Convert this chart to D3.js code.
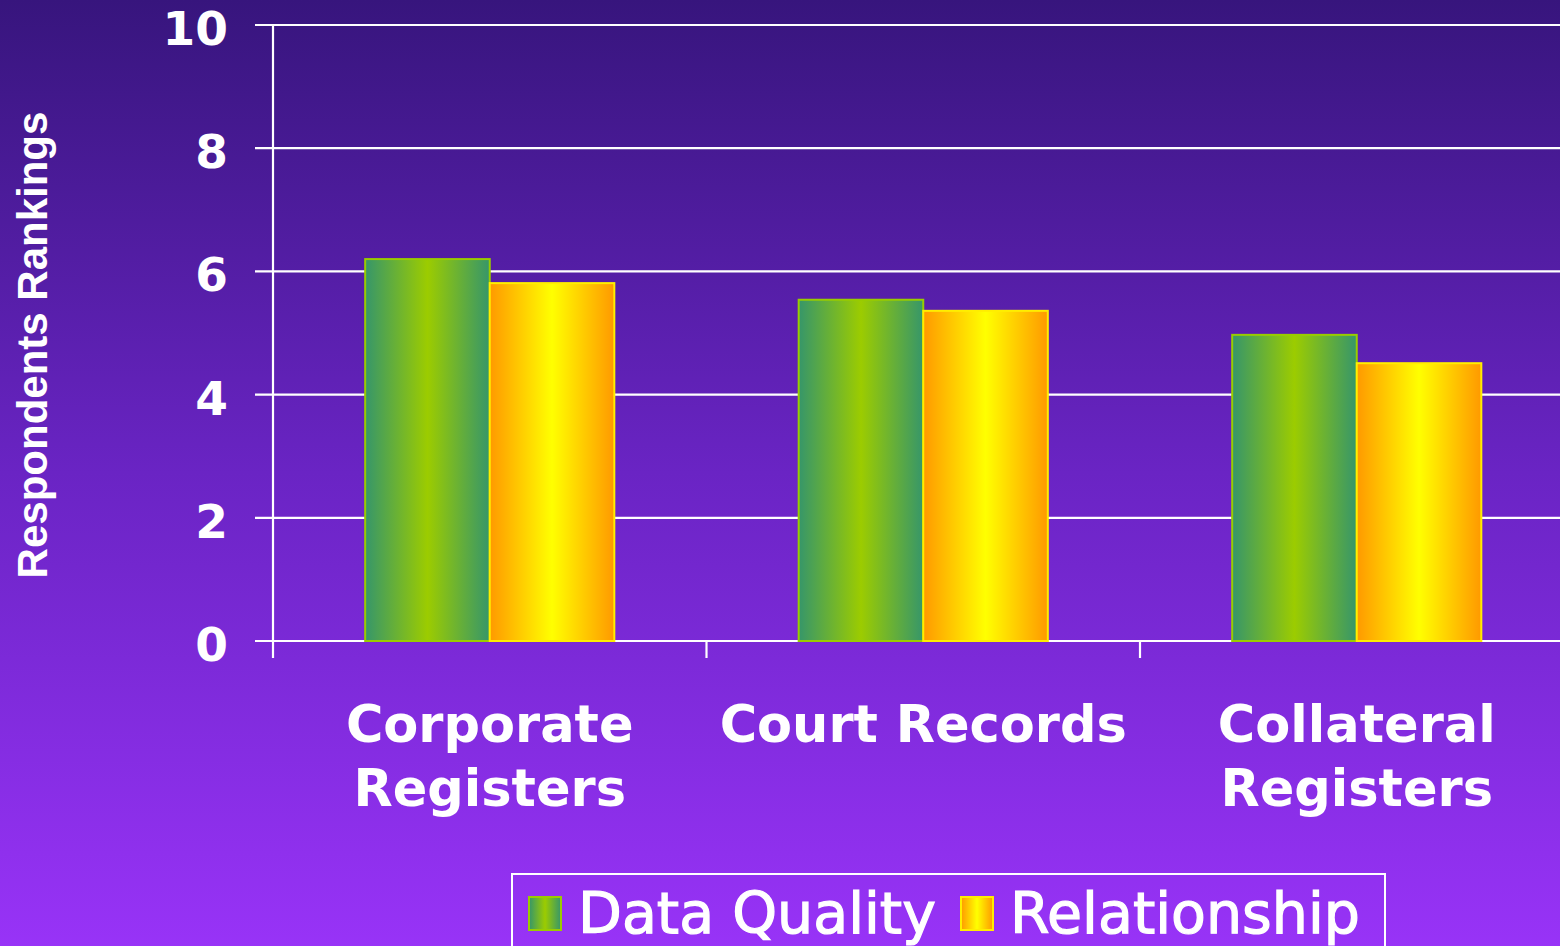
<!DOCTYPE html>
<meta charset="utf-8">
<style>
body { margin: 0; overflow: hidden; }
text { fill: #fff; }
</style>
<body>
<script src="https://cdn.jsdelivr.net/npm/d3@7"></script>
<script>

// chart data
var categories = [["Corporate", "Registers"], ["Court Records"], ["Collateral", "Registers"]];
var seriesNames = ["Data Quality", "Relationship"];
var dataQuality = [6.2, 5.54, 4.97];
var relationship = [5.81, 5.36, 4.51];
var yTicks = [0, 2, 4, 6, 8, 10];

var W = 1560, H = 946;
var plotLeft = 273, plotTop = 25, plotBottom = 641;
var step = 433.5;

var svg = d3.select("body").append("svg")
    .attr("width", W)
    .attr("height", H);

var defs = svg.append("defs");

// background gradient
var bg = defs.append("linearGradient").attr("id", "bg")
    .attr("x1", 0).attr("y1", 0).attr("x2", 0).attr("y2", 1);
bg.append("stop").attr("offset", "0%").attr("stop-color", "#37157d");
bg.append("stop").attr("offset", "50%").attr("stop-color", "#6a24c4");
bg.append("stop").attr("offset", "100%").attr("stop-color", "#9833f7");

// bar gradients (horizontal)
function barGrad(id, edge, mid) {
  var g = defs.append("linearGradient").attr("id", id)
      .attr("x1", 0).attr("y1", 0).attr("x2", 1).attr("y2", 0);
  g.append("stop").attr("offset", "0%").attr("stop-color", edge);
  g.append("stop").attr("offset", "50%").attr("stop-color", mid);
  g.append("stop").attr("offset", "100%").attr("stop-color", edge);
}
barGrad("gGreen", "#36966a", "#9ccc00");
barGrad("gYellow", "#ff9900", "#ffff00");

var fills = ["url(#gGreen)", "url(#gYellow)"];
var strokes = ["#99cc00", "#ffee00"];

svg.append("rect").attr("width", W).attr("height", H).attr("fill", "url(#bg)");

// scales
var x = d3.scaleBand()
    .domain(d3.range(categories.length))
    .range([plotLeft, plotLeft + step * categories.length]);

var x1 = d3.scaleBand()
    .domain(d3.range(seriesNames.length))
    .range([0, x.bandwidth()])
    .paddingOuter(0.74);

var y = d3.scaleLinear()
    .domain([0, 10])
    .range([plotBottom, plotTop]);

// gridlines
svg.append("g")
  .selectAll("line")
  .data(yTicks)
  .enter().append("line")
    .attr("x1", 255).attr("x2", W)
    .attr("y1", function(d) { return y(d); })
    .attr("y2", function(d) { return y(d); })
    .attr("stroke", "#fff")
    .attr("stroke-width", 2.2);

// y axis line
svg.append("line")
    .attr("x1", plotLeft).attr("x2", plotLeft)
    .attr("y1", plotTop).attr("y2", plotBottom + 17)
    .attr("stroke", "#fff").attr("stroke-width", 2.2);

// x ticks between categories
svg.append("g")
  .selectAll("line")
  .data(d3.range(1, categories.length))
  .enter().append("line")
    .attr("x1", function(d) { return x(d); })
    .attr("x2", function(d) { return x(d); })
    .attr("y1", plotBottom).attr("y2", plotBottom + 17)
    .attr("stroke", "#fff").attr("stroke-width", 2.2);

// y tick labels
svg.append("g")
  .selectAll("text")
  .data(yTicks)
  .enter().append("text")
    .attr("x", 228)
    .attr("y", function(d) { return y(d) + 20; })
    .attr("text-anchor", "end")
    .style("font", "bold 47px 'DejaVu Sans'")
    .text(function(d) { return d; });

// y title
svg.append("text")
    .attr("transform", "translate(47,345) rotate(-90)")
    .attr("text-anchor", "middle")
    .style("font", "bold 42px 'Liberation Sans'")
    .text("Respondents Rankings");

// bars
var series = [dataQuality, relationship];
var groups = svg.append("g")
  .selectAll("g")
  .data(categories)
  .enter().append("g")
    .attr("transform", function(d, i) { return "translate(" + x(i) + ",0)"; });

groups.selectAll("rect")
    .data(function(d, i) { return series.map(function(s, k) { return {k: k, v: s[i]}; }); })
  .enter().append("rect")
    .attr("x", function(d) { return x1(d.k); })
    .attr("y", function(d) { return y(d.v); })
    .attr("width", x1.bandwidth())
    .attr("height", function(d) { return y(0) - y(d.v); })
    .attr("fill", function(d) { return fills[d.k]; })
    .attr("stroke", function(d) { return strokes[d.k]; })
    .attr("stroke-width", 2);

// category labels
groups.append("text")
    .attr("x", x.bandwidth() / 2)
    .attr("y", 742)
    .attr("text-anchor", "middle")
    .style("font", "bold 51px 'DejaVu Sans'")
  .selectAll("tspan")
    .data(function(d) { return d; })
  .enter().append("tspan")
    .attr("x", x.bandwidth() / 2)
    .attr("dy", function(d, i) { return i ? 64 : 0; })
    .text(function(d) { return d; });

// legend
var legend = svg.append("g");
legend.append("rect")
    .attr("x", 512).attr("y", 874)
    .attr("width", 873).attr("height", 100)
    .attr("fill", "none")
    .attr("stroke", "#fff").attr("stroke-width", 2);

var legX = [529, 961];
var items = legend.selectAll("g.item")
    .data(seriesNames)
  .enter().append("g")
    .attr("class", "item")
    .attr("transform", function(d, i) { return "translate(" + legX[i] + ",0)"; });

items.append("rect")
    .attr("x", 0).attr("y", 897)
    .attr("width", 32).attr("height", 33)
    .attr("fill", function(d, i) { return fills[i]; })
    .attr("stroke", function(d, i) { return strokes[i]; })
    .attr("stroke-width", 2);

items.append("text")
    .attr("x", 49).attr("y", 933)
    .style("font", "57px 'DejaVu Sans'")
    .attr("stroke", "#fff")
    .attr("stroke-width", 1.2)
    .text(function(d) { return d; });

</script>
</body>
